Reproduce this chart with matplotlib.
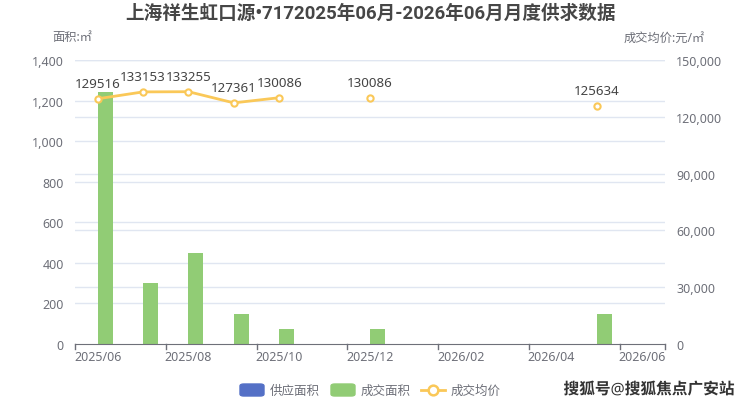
import numpy as np
import matplotlib.pyplot as plt
import matplotlib.patheffects as pe
from matplotlib.lines import Line2D
from matplotlib.patches import FancyBboxPatch

plt.rcParams['font.family'] = ['Noto Sans', 'Noto Sans CJK SC', 'DejaVu Sans']

months = ["2025/06", "2025/07", "2025/08", "2025/09", "2025/10", "2025/11", "2025/12",
          "2026/01", "2026/02", "2026/03", "2026/04", "2026/05", "2026/06"]
supply_area = [0, 0, 0, 0, 0, 0, 0, 0, 0, 0, 0, 0, 0]
deal_area = [1240, 300, 450, 150, 75, 0, 75, 0, 0, 0, 0, 150, 0]
avg_price = [129516, 133153, 133255, 127361, 130086, np.nan, 130086,
             np.nan, np.nan, np.nan, np.nan, 125634, np.nan]

TEXT = "#6e7079"
GRID = "#e0e6f1"
BLUE = "#5470c6"
GREEN = "#91cc75"
YELLOW = "#fac858"

AREA_MAX, PRICE_MAX = 1400, 150000

fig = plt.figure(figsize=(7.4, 4.06), dpi=100)
ax = fig.add_axes([75 / 740, 1 - 345 / 406, 590 / 740, 284 / 406])
ax2 = ax.twinx()

x = np.arange(len(months))
bw = 0.33
ax.bar(x - bw / 2, supply_area, width=bw, color=BLUE, zorder=2)
ax.bar(x + bw / 2, deal_area, width=bw, color=GREEN, zorder=2)

ax.set_xlim(-0.5, len(months) - 0.5)
ax.set_ylim(0, AREA_MAX)
left_ticks = np.arange(0, AREA_MAX + 1, 200)
ax.set_yticks(left_ticks)
ax.set_yticklabels([f"{v:,}" for v in left_ticks])
ax2.set_ylim(0, PRICE_MAX)
right_ticks = np.arange(0, PRICE_MAX + 1, 30000)
ax2.set_yticks(right_ticks)
ax2.set_yticklabels([f"{v:,}" for v in right_ticks])

# gridlines for both axes, drawn behind the bars
for v in left_ticks[1:]:
    ax.axhline(v, color=GRID, linewidth=1, zorder=0)
for v in right_ticks[1:]:
    ax.axhline(v / PRICE_MAX * AREA_MAX, color=GRID, linewidth=1, zorder=0)

for a in (ax, ax2):
    for s in ("top", "left", "right", "bottom"):
        a.spines[s].set_visible(False)
    a.tick_params(axis="y", length=0, colors=TEXT, labelsize=9, pad=8)
ax.spines["bottom"].set_visible(True)
ax.spines["bottom"].set_color(TEXT)
ax.spines["bottom"].set_zorder(5)

# category labels every 2 months, ticks at category boundaries
ax.set_xticks(x[::2])
ax.set_xticklabels(months[::2])
ax.tick_params(axis="x", length=0, colors=TEXT, labelsize=9, pad=4)
for b in list(np.arange(-0.5, len(months), 2)) + [len(months) - 0.5]:
    ax.plot([b, b], [0, -0.018], transform=ax.get_xaxis_transform(),
            color=TEXT, linewidth=1, clip_on=False)

ax2.plot(x, avg_price, color=YELLOW, linewidth=2, marker="o", markersize=4.5,
         markerfacecolor="white", markeredgecolor=YELLOW, markeredgewidth=1.5, zorder=4)
for xi, v in zip(x, avg_price):
    if not np.isnan(v):
        ax2.annotate(f"{int(v)}", (xi, v), xytext=(0, 6.5), textcoords="offset points",
                     ha="center", va="bottom", fontsize=9.6, color="#444444")

fig.text(0.5, 1 - 14 / 406, "上海祥生虹口源•7172025年06月-2026年06月月度供求数据",
         ha="center", va="center", fontsize=13.4, fontweight="bold", color="#464646",
         family=['Roboto', 'Noto Sans CJK SC', 'DejaVu Sans'])
fig.text(52 / 740, 1 - 38 / 406, "面积:㎡", ha="left", va="center", fontsize=8.8, color=TEXT)
fig.text(705 / 740, 1 - 38 / 406, "成交均价:元/㎡", ha="right", va="center", fontsize=8.8, color=TEXT)

# legend
ly = 1 - 391 / 406
fig.patches.append(FancyBboxPatch((240 / 740, ly - 6 / 406), 24 / 740, 12 / 406,
                                  boxstyle="round,pad=0,rounding_size=0.005",
                                  transform=fig.transFigure, color=BLUE))
fig.text(270 / 740, ly, "供应面积", ha="left", va="center", fontsize=9, color=TEXT)
fig.patches.append(FancyBboxPatch((331 / 740, ly - 6 / 406), 24 / 740, 12 / 406,
                                  boxstyle="round,pad=0,rounding_size=0.005",
                                  transform=fig.transFigure, color=GREEN))
fig.text(361 / 740, ly, "成交面积", ha="left", va="center", fontsize=9, color=TEXT)
fig.lines.append(Line2D([421 / 740, 445 / 740], [ly, ly], transform=fig.transFigure,
                        color=YELLOW, linewidth=2))
fig.lines.append(Line2D([433 / 740], [ly], transform=fig.transFigure, color=YELLOW,
                        marker="o", markersize=7, markerfacecolor="white", markeredgewidth=1.8))
fig.text(451 / 740, ly, "成交均价", ha="left", va="center", fontsize=9, color=TEXT)

fig.text(735 / 740, ly, "搜狐号@搜狐焦点广安站", ha="right", va="center", fontsize=11.3,
         fontweight="bold", color="#333333",
         path_effects=[pe.withStroke(linewidth=2.5, foreground="white")])

fig.savefig("out.png", dpi=100)
